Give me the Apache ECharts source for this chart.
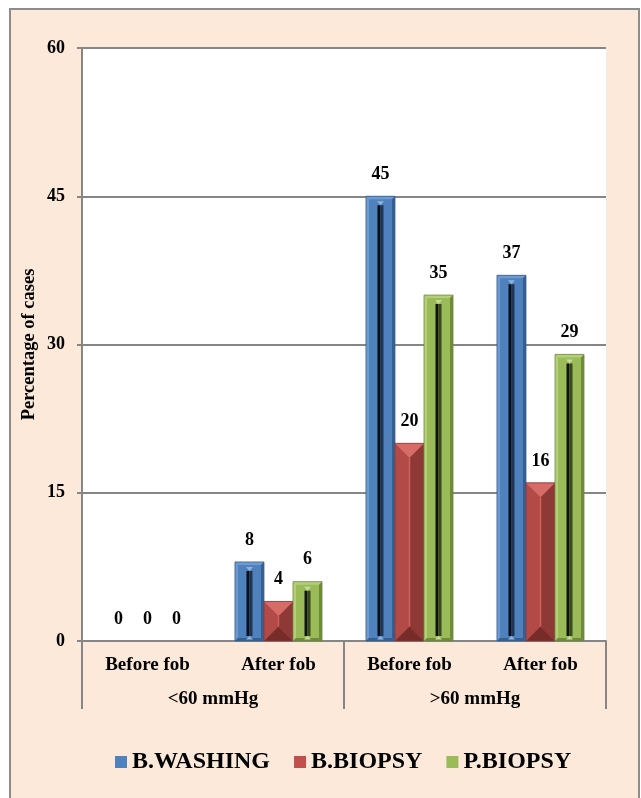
<!DOCTYPE html>
<html>
<head>
<meta charset="utf-8">
<script src="https://cdn.jsdelivr.net/npm/echarts@6/dist/echarts.min.js"></script>
<style>
  html, body { margin: 0; padding: 0; background: #ffffff; }
  #chart { width: 641px; height: 798px; }
</style>
</head>
<body>
<div id="chart"></div>
<script>
// Sub-categories (inner axis) and the pressure groups (outer axis)
var categories = ['Before fob', 'After fob', 'Before fob', 'After fob'];
var groups = ['<60 mmHg', '>60 mmHg'];

// Percentage of cases per method
var bWashing = [0, 8, 45, 37];
var bBiopsy  = [0, 4, 20, 16];
var pBiopsy  = [0, 6, 35, 29];

var seriesNames = ['B.WASHING', 'B.BIOPSY', 'P.BIOPSY'];
var yTitle = 'Percentage of cases';
var yTicks = { min: 0, max: 60, interval: 15 };

var FONT = '"Liberation Serif", "Times New Roman", serif';
var AXIS_GRAY = '#868686';

var palettes = [
  { base: '#4F81BD', light: '#6E9AD2', dark: '#365F91', edge: '#385D8A', slotDark: '#0A0F18', slotMid: '#1F3552', tip: '#8FB3E0' },
  { base: '#C0504D', light: '#D66B67', dark: '#8C3835', edge: '#8C3A38', bottom: '#772C2A' },
  { base: '#9BBB59', light: '#B3CF7A', dark: '#6E8A3A', edge: '#71893F', slotDark: '#0F140A', slotMid: '#3A4A1E', tip: '#C6DC99' }
];

function poly(points, fill) {
  return { type: 'polygon', shape: { points: points }, style: { fill: fill }, silent: true };
}

function makeRenderer(sIdx) {
  var pal = palettes[sIdx];
  return function (params, api) {
    var cat = api.value(0);
    var val = api.value(1);
    var top = api.coord([cat, val]);
    var base = api.coord([cat, 0]);
    var band = api.size([1, 0])[0];
    var w = band * 0.2215;
    var cx = top[0] + (sIdx - 1) * w;
    var x0 = cx - w / 2, x1 = cx + w / 2;
    var y0 = top[1], y1 = base[1];
    var h = y1 - y0;
    var children = [];

    if (h > 0.5) {
      if (sIdx === 1) {
        // angled bevel: light top, shaded halves, dark bottom
        var d = Math.min(w / 2, h / 2);
        children.push({ type: 'rect', shape: { x: x0, y: y0, width: w, height: h }, style: { fill: pal.base }, silent: true });
        children.push(poly([[x0, y0], [x0 + d, y0 + d], [x0 + d, y1 - d], [x0, y1]], '#B24B48'));
        children.push(poly([[x1, y0], [x1 - d, y0 + d], [x1 - d, y1 - d], [x1, y1]], '#8E3936'));
        children.push(poly([[x0, y0], [x1, y0], [x1 - d, y0 + d], [x0 + d, y0 + d]], pal.light));
        children.push(poly([[x0, y1], [x1, y1], [x1 - d, y1 - d], [x0 + d, y1 - d]], pal.bottom));
        if (h - 2 * d > 4) {
          children.push({ type: 'line', shape: { x1: cx, y1: y0 + d, x2: cx, y2: y1 - d },
            style: { stroke: '#CC625E', lineWidth: 1.5 }, silent: true });
        }
        children.push({ type: 'rect', shape: { x: x0, y: y0, width: w, height: h },
          style: { fill: 'none', stroke: pal.edge, lineWidth: 0.8 }, silent: true });
      } else {
        // framed bevel with a dark centre slot
        var b = 3;
        children.push({ type: 'rect', shape: { x: x0, y: y0, width: w, height: h }, style: { fill: pal.base }, silent: true });
        children.push(poly([[x0, y0], [x1, y0], [x1 - b, y0 + b], [x0 + b, y0 + b]], pal.light));
        children.push(poly([[x0, y0], [x0 + b, y0 + b], [x0 + b, y1 - b], [x0, y1]], pal.light));
        children.push(poly([[x1, y0], [x1 - b, y0 + b], [x1 - b, y1 - b], [x1, y1]], pal.dark));
        children.push(poly([[x0, y1], [x1, y1], [x1 - b, y1 - b], [x0 + b, y1 - b]], pal.dark));
        if (h > 18) {
          var sTop = y0 + 9, sBot = y1 - 5;
          children.push({ type: 'rect', shape: { x: cx - 3, y: sTop, width: 3, height: sBot - sTop }, style: { fill: pal.slotDark }, silent: true });
          children.push({ type: 'rect', shape: { x: cx, y: sTop, width: 3, height: sBot - sTop }, style: { fill: pal.slotMid }, silent: true });
          children.push(poly([[cx - 3.5, y0 + 5], [cx + 3.5, y0 + 5], [cx, sTop]], pal.tip));
          children.push(poly([[cx - 3.5, y1 - 1.5], [cx + 3.5, y1 - 1.5], [cx, sBot]], pal.tip));
        }
        children.push({ type: 'rect', shape: { x: x0, y: y0, width: w, height: h },
          style: { fill: 'none', stroke: pal.edge, lineWidth: 0.8 }, silent: true });
      }
    }

    // value label above the bar
    children.push({
      type: 'text',
      style: {
        text: String(val), x: cx, y: y0 - 13,
        fill: '#000', font: 'bold 18px ' + FONT,
        textAlign: 'center', textVerticalAlign: 'bottom'
      },
      silent: true
    });

    return { type: 'group', children: children };
  };
}

function seriesData(arr) {
  return arr.map(function (v, i) { return [i, v]; });
}

var chart = echarts.init(document.getElementById('chart'), null, { renderer: 'canvas' });

chart.setOption({
  backgroundColor: '#ffffff',
  animation: false,
  textStyle: { fontFamily: FONT },
  graphic: [{
    type: 'rect', z: -10,
    shape: { x: 10, y: 9, width: 629, height: 800 },
    style: { fill: '#FDE9D9', stroke: '#8C8C8C', lineWidth: 2 }
  }, {
    // vertical axis title
    type: 'text', x: 29, y: 344.5, rotation: Math.PI / 2, z: 10,
    style: {
      text: yTitle, fill: '#000', font: 'bold 18.5px ' + FONT,
      textAlign: 'center', textVerticalAlign: 'middle'
    }
  }],
  grid: {
    left: 82, right: 35, top: 48, bottom: 157,
    show: true, backgroundColor: '#ffffff', borderWidth: 0
  },
  legend: {
    left: 115, top: 750, padding: 0,
    icon: 'rect', itemWidth: 12, itemHeight: 12, itemGap: 24,
    data: seriesNames,
    textStyle: { fontFamily: FONT, fontWeight: 'bold', fontSize: 24, color: '#000' }
  },
  xAxis: [{
    type: 'category', data: categories, position: 'bottom',
    axisLine: { show: true, lineStyle: { color: AXIS_GRAY, width: 2 } },
    axisTick: { show: false },
    axisLabel: { interval: 0, margin: 15, color: '#000', fontFamily: FONT, fontWeight: 'bold', fontSize: 19 }
  }, {
    type: 'category', data: groups, position: 'bottom',
    axisLine: { show: false },
    axisTick: { show: true, length: 68, lineStyle: { color: AXIS_GRAY, width: 2 } },
    axisLabel: { interval: 0, margin: 49, color: '#000', fontFamily: FONT, fontWeight: 'bold', fontSize: 19 }
  }],
  yAxis: {
    type: 'value', min: yTicks.min, max: yTicks.max, interval: yTicks.interval,
    axisLine: { show: true, lineStyle: { color: AXIS_GRAY, width: 2 } },
    axisTick: { show: true, length: 5, lineStyle: { color: AXIS_GRAY, width: 2 } },
    axisLabel: { margin: 17, color: '#000', fontFamily: FONT, fontWeight: 'bold', fontSize: 18 },
    splitLine: { show: true, lineStyle: { color: AXIS_GRAY, width: 2 } }
  },
  series: [bWashing, bBiopsy, pBiopsy].map(function (arr, i) {
    return {
      type: 'custom', name: seriesNames[i],
      xAxisIndex: 0, yAxisIndex: 0,
      itemStyle: { color: palettes[i].base },
      encode: { x: 0, y: 1 },
      renderItem: makeRenderer(i),
      data: seriesData(arr),
      clip: false
    };
  })
});
</script>
</body>
</html>
